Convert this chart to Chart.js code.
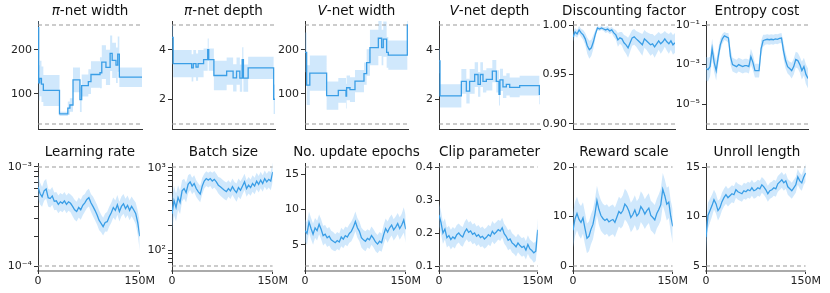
<!DOCTYPE html>
<html>
<head>
<meta charset="utf-8">
<script src="https://cdn.jsdelivr.net/npm/chart.js@4"></script>
<style>
  body { margin: 0; background: #fff; }
  #wrap { position: relative; width: 830px; height: 293px; overflow: hidden; font-family: "DejaVu Sans", sans-serif; }
  canvas { position: absolute; }
  .ttl { position: absolute; font-size: 13.5px; line-height: 1; color: #111; white-space: nowrap; transform: translateX(-50%); }
</style>
</head>
<body>
<div id="wrap"></div>
<script>
// training steps (millions) for the noisy hyperparameter traces
const steps = [0,3,6,9,12,15,18,21,24,27,30,33,36,39,42,45,48,51,54,57,60,63,66,69,72,75,78,81,84,87,90,93,96,99,102,105,108,111,114,117,120,123,126,129,132,135,138,141,144,147,150];

// top row: architecture params are step functions (value holds from x until next x)
const piWidthX = [0,1,2.5,5,7.7,31,43,46,50.5,60.5,63,72.6,76.4,89.4,92,98,104,107,112.5,115,117.3,150];
const piWidth = [250,125,135,122,108,55,68,75,132,87,119,128,144,148,172,160,192,176,165,190,138,138];
const piWidthSpread = [60,40,40,40,35,5,15,15,28,28,25,28,30,35,38,40,40,40,40,40,22,22];

const piDepthX = [0,1.7,28.6,31,35,38,46,52,53.5,61,79.6,89,94,98.8,102.2,104,110.9,148,150];
const piDepth = [4.5,3.44,3.27,3.44,3.3,3.44,3.6,4.0,3.6,2.96,3.14,2.86,3.14,2.85,3.6,2.85,3.27,2.0,2.0];
const piDepthSpread = [0.5,0.55,0.55,0.55,0.55,0.55,0.45,0.45,0.45,0.6,0.55,0.55,0.55,0.55,0.5,0.55,0.45,0.6,0.6];

const vWidthX = [0,2.4,7,31.5,48.5,53.4,59.7,60.6,65.5,72.8,85.9,89.8,94.6,106.8,111.6,114,118.9,121.3,149,150];
const vWidth = [194,120,147,96,108,108,95,114,110,129,146,171,205,226,205,224,194,188,256,256];
const vWidthSpread = [45,45,40,32,28,28,28,28,28,25,25,30,40,40,40,40,35,33,33,33];

const vDepthX = [0,1.5,33.2,40.6,45.5,53,58,61.4,65.3,70.3,79.2,85.1,89.1,90.5,95,100,105,119.8,149,150];
const vDepth = [3.55,2.14,2.72,2.33,2.72,3.0,2.6,3.0,2.72,2.8,3.14,2.72,2.2,2.78,2.5,2.6,2.48,2.55,2.2,2.2];
const vDepthSpread = [0.5,0.47,0.5,0.5,0.5,0.5,0.5,0.5,0.45,0.45,0.45,0.45,0.45,0.45,0.45,0.45,0.4,0.4,0.4,0.4];

const discount = [0.988,0.993,0.991,0.995,0.992,0.990,0.986,0.979,0.975,0.977,0.983,0.991,0.997,0.996,0.997,0.996,0.995,0.996,0.994,0.995,0.992,0.990,0.985,0.987,0.986,0.982,0.980,0.977,0.982,0.987,0.988,0.986,0.984,0.982,0.980,0.986,0.984,0.982,0.980,0.981,0.978,0.981,0.984,0.981,0.983,0.986,0.983,0.981,0.984,0.980,0.982];
const discountSpread = [0.005,0.004,0.004,0.004,0.004,0.005,0.006,0.008,0.009,0.008,0.007,0.004,0.002,0.002,0.002,0.002,0.003,0.003,0.003,0.003,0.004,0.005,0.007,0.006,0.007,0.008,0.009,0.010,0.009,0.008,0.008,0.008,0.009,0.010,0.011,0.009,0.009,0.010,0.011,0.010,0.011,0.010,0.009,0.010,0.009,0.008,0.009,0.010,0.009,0.010,0.010];

// log-scale series: spread is in decades
const entropy = [6.3e-4,5.6e-4,7.9e-4,6.3e-3,1.3e-3,5.0e-4,2.5e-3,1.0e-2,2.0e-2,2.8e-2,2.5e-2,2.2e-2,2.5e-3,1.0e-3,8.9e-4,7.9e-4,1.0e-3,8.9e-4,7.9e-4,8.9e-4,8.9e-4,7.9e-4,2.5e-3,1.3e-3,5.0e-4,5.0e-4,5.0e-4,6.3e-3,1.6e-2,1.8e-2,1.9e-2,1.8e-2,1.9e-2,1.8e-2,2.0e-2,1.9e-2,2.1e-2,2.2e-2,5.0e-3,1.6e-3,7.9e-4,6.3e-4,5.0e-4,7.9e-4,1.8e-3,1.6e-3,1.0e-3,5.0e-4,7.9e-4,3.2e-4,2.0e-4];
const entropySpread = [0.6,0.6,0.5,0.5,0.5,0.5,0.4,0.3,0.25,0.2,0.2,0.25,0.4,0.35,0.35,0.35,0.35,0.35,0.35,0.35,0.35,0.35,0.4,0.4,0.35,0.35,0.35,0.4,0.3,0.25,0.25,0.25,0.25,0.25,0.25,0.25,0.25,0.25,0.4,0.4,0.35,0.35,0.4,0.4,0.4,0.4,0.4,0.45,0.45,0.5,0.5];

const lr = [6.3e-4,5.4e-4,5.0e-4,5.75e-4,6.0e-4,4.9e-4,4.8e-4,5.1e-4,4.5e-4,4.55e-4,4.2e-4,4.45e-4,4.3e-4,4.55e-4,4.2e-4,4.45e-4,4.3e-4,4.0e-4,3.7e-4,3.55e-4,3.9e-4,3.7e-4,4.1e-4,4.35e-4,4.7e-4,4.9e-4,4.35e-4,4.0e-4,3.65e-4,3.3e-4,2.9e-4,2.7e-4,2.5e-4,2.75e-4,2.8e-4,3.15e-4,3.45e-4,3.9e-4,3.65e-4,4.15e-4,3.55e-4,4.0e-4,4.25e-4,3.8e-4,4.1e-4,3.65e-4,4.0e-4,3.7e-4,3.4e-4,2.75e-4,2.0e-4];
const lrSpread = [0.12,0.11,0.1,0.1,0.1,0.09,0.09,0.09,0.09,0.09,0.09,0.09,0.09,0.09,0.09,0.09,0.09,0.1,0.1,0.1,0.1,0.1,0.1,0.09,0.09,0.09,0.09,0.1,0.1,0.1,0.1,0.09,0.09,0.09,0.1,0.1,0.1,0.1,0.1,0.1,0.1,0.1,0.1,0.1,0.1,0.1,0.1,0.1,0.11,0.12,0.15];

const batch = [275,400,330,435,380,525,560,500,630,675,600,645,560,515,480,600,690,740,710,740,690,725,675,615,590,560,535,515,560,525,590,535,500,575,535,600,675,560,615,575,645,600,690,630,710,645,740,675,725,690,890];
const batchSpread = [0.2,0.18,0.17,0.15,0.14,0.13,0.12,0.12,0.11,0.1,0.1,0.1,0.1,0.1,0.1,0.1,0.09,0.09,0.09,0.09,0.1,0.1,0.1,0.1,0.11,0.11,0.11,0.11,0.1,0.1,0.1,0.1,0.11,0.11,0.11,0.1,0.1,0.1,0.1,0.1,0.1,0.1,0.1,0.1,0.1,0.1,0.1,0.1,0.1,0.11,0.12];

const epochs = [7.0,6.6,8.2,7.3,6.5,7.4,7.0,7.9,7.2,6.3,6.5,6.0,6.2,5.7,5.5,5.3,5.6,5.4,6.1,5.8,6.3,6.1,6.6,6.9,7.5,8.3,7.4,6.9,6.0,5.7,5.5,5.9,5.7,6.3,5.9,5.4,5.1,5.5,5.3,6.4,7.3,6.8,7.4,7.8,7.1,7.5,8.0,7.3,7.8,8.5,7.2];
const epochsSpread = [1.6,1.6,1.5,1.5,1.5,1.4,1.4,1.4,1.4,1.4,1.3,1.3,1.3,1.3,1.3,1.2,1.2,1.2,1.3,1.3,1.3,1.3,1.3,1.4,1.4,1.4,1.4,1.4,1.4,1.4,1.4,1.3,1.3,1.3,1.3,1.3,1.3,1.3,1.3,1.4,1.4,1.5,1.5,1.5,1.5,1.5,1.5,1.6,1.6,1.8,1.9];

const clip = [0.255,0.232,0.200,0.212,0.186,0.192,0.180,0.188,0.183,0.195,0.200,0.192,0.188,0.203,0.212,0.202,0.206,0.196,0.200,0.190,0.195,0.186,0.190,0.182,0.187,0.195,0.190,0.205,0.197,0.203,0.210,0.206,0.216,0.198,0.190,0.178,0.182,0.170,0.165,0.158,0.170,0.162,0.156,0.160,0.148,0.165,0.152,0.147,0.140,0.145,0.210];
const clipSpread = [0.035,0.035,0.033,0.032,0.03,0.03,0.03,0.03,0.03,0.029,0.029,0.03,0.03,0.031,0.031,0.03,0.03,0.03,0.03,0.03,0.029,0.029,0.03,0.03,0.03,0.03,0.03,0.031,0.031,0.03,0.03,0.03,0.03,0.03,0.03,0.03,0.03,0.029,0.029,0.029,0.028,0.028,0.028,0.028,0.028,0.028,0.028,0.028,0.03,0.03,0.035];

const reward = [7.2,9.5,10.6,9.4,8.8,9.7,7.6,5.6,6.0,7.4,8.4,10.5,13.2,11.4,10.2,9.6,9.2,9.5,8.9,9.2,9.4,8.8,9.9,11.0,10.6,11.2,12.5,12.0,11.1,9.8,10.4,11.3,10.1,10.6,12.0,11.4,10.5,11.2,11.7,10.2,9.8,9.3,10.6,11.4,12.4,15.5,14.2,12.5,12.9,10.0,8.0];
const rewardSpread = [3.5,3.5,3.4,3.3,3.3,3.2,3.2,3.0,3.0,3.0,3.0,3.0,3.0,3.1,3.1,3.0,3.0,3.0,3.0,3.0,3.0,3.0,3.0,3.0,3.0,3.1,3.1,3.1,3.0,3.0,3.0,3.0,3.0,3.1,3.1,3.1,3.0,3.0,3.0,3.0,3.0,3.0,3.0,3.1,3.2,3.3,3.3,3.3,3.2,3.2,3.4];

const unroll = [7.9,10.1,10.6,11.1,11.7,11.3,10.6,10.9,11.5,11.9,12.2,11.9,12.1,12.3,12.2,12.7,12.5,12.4,12.3,12.6,12.5,12.7,12.6,12.9,12.6,12.7,12.9,12.8,13.2,13.0,12.7,12.3,12.6,12.7,12.9,12.8,13.3,13.5,13.7,13.4,13.6,13.0,12.8,12.6,12.9,13.2,14.0,13.6,13.4,14.0,14.4];
const unrollSpread = [1.5,1.3,1.2,1.1,1.0,1.0,1.0,0.9,0.9,0.9,0.9,0.9,0.85,0.85,0.85,0.8,0.8,0.8,0.8,0.8,0.8,0.8,0.8,0.8,0.8,0.8,0.8,0.8,0.8,0.8,0.8,0.8,0.8,0.8,0.8,0.8,0.8,0.8,0.8,0.8,0.8,0.8,0.8,0.8,0.8,0.8,0.8,0.8,0.8,0.8,0.9];

const lrTicks = [1e-4,2e-4,3e-4,4e-4,5e-4,6e-4,7e-4,8e-4,9e-4,1e-3];
const batchTicks = [70,80,90,100,200,300,400,500,600,700,800,900,1000];

const plots = [
  {title:'<i>π</i>-net width', x:piWidthX, y:piWidth, s:piWidthSpread, bounds:[32,256], ticks:[100,200], labels:['100','200'], step:true},
  {title:'<i>π</i>-net depth', x:piDepthX, y:piDepth, s:piDepthSpread, bounds:[1,5], ticks:[2,4], labels:['2','4'], step:true},
  {title:'<i>V</i>-net width', x:vWidthX, y:vWidth, s:vWidthSpread, bounds:[32,256], ticks:[100,200], labels:['100','200'], step:true},
  {title:'<i>V</i>-net depth', x:vDepthX, y:vDepth, s:vDepthSpread, bounds:[1,5], ticks:[2,4], labels:['2','4'], step:true},
  {title:'Discounting factor', x:steps, y:discount, s:discountSpread, bounds:[0.9,1.0], ticks:[0.9,0.95,1.0], labels:['0.90','0.95','1.00']},
  {title:'Entropy cost', x:steps, y:entropy, s:entropySpread, log:true, bounds:[1e-6,1e-1], ticks:[1e-5,1e-3,1e-1], labels:['10⁻⁵','10⁻³','10⁻¹']},
  {title:'Learning rate', x:steps, y:lr, s:lrSpread, log:true, bounds:[1e-4,1e-3], ticks:lrTicks, labels:['10⁻⁴','','','','','','','','','10⁻³']},
  {title:'Batch size', x:steps, y:batch, s:batchSpread, log:true, bounds:[64,1024], ticks:batchTicks, labels:['','','','10²','','','','','','','','','10³']},
  {title:'No. update epochs', x:steps, y:epochs, s:epochsSpread, bounds:[2,16], ticks:[5,10,15], labels:['5','10','15']},
  {title:'Clip parameter', x:steps, y:clip, s:clipSpread, bounds:[0.1,0.4], ticks:[0.1,0.2,0.3,0.4], labels:['0.1','0.2','0.3','0.4']},
  {title:'Reward scale', x:steps, y:reward, s:rewardSpread, bounds:[0,20], ticks:[0,10,20], labels:['0','10','20']},
  {title:'Unroll length', x:steps, y:unroll, s:unrollSpread, bounds:[5,15], ticks:[5,10,15], labels:['5','10','15']}
];

const plotLeft = [38, 172, 305, 439, 573, 706];
const plotWidth = [104, 103, 103, 101, 102, 102];
const plotTop = [21, 163];
const plotH = 108;
const yAxisW = 40, padTop = 12, padRight = 14;

Chart.defaults.font.family = '"DejaVu Sans", sans-serif';
Chart.defaults.font.size = 11;
Chart.defaults.color = '#222';

const lineColor = '#3a9ee6';
const bandColor = 'rgba(120,190,245,0.35)';
const wrap = document.getElementById('wrap');

plots.forEach((p, i) => {
  const row = Math.floor(i / 6), col = i % 6;
  const xh = row ? 20 : 2;
  const padBottom = row ? 0 : 10;
  const cv = document.createElement('canvas');
  const w = yAxisW + plotWidth[col] + padRight;
  const h = padTop + plotH + xh + padBottom;
  cv.width = w; cv.height = h;
  cv.style.left = (plotLeft[col] - yAxisW) + 'px';
  cv.style.top = (plotTop[row] - padTop) + 'px';
  wrap.appendChild(cv);

  const t = document.createElement('div');
  t.className = 'ttl';
  t.innerHTML = p.title;
  t.style.left = (plotLeft[col] + plotWidth[col] / 2) + 'px';
  t.style.top = (row ? 145 : 4) + 'px';
  wrap.appendChild(t);

  // axis limits: matplotlib-like margins around the search bounds
  let ymin, ymax;
  if (p.log) {
    const a = Math.log10(p.bounds[0]), b = Math.log10(p.bounds[1]), r = b - a;
    ymin = Math.pow(10, a - r * 5 / 99); ymax = Math.pow(10, b + r * 4 / 99);
  } else {
    const r = p.bounds[1] - p.bounds[0];
    ymin = p.bounds[0] - r * 5 / 99; ymax = p.bounds[1] + r * 4 / 99;
  }

  const lo = p.y.map((v, k) => ({x: p.x[k], y: p.log ? v / Math.pow(10, p.s[k]) : v - p.s[k]}));
  const hi = p.y.map((v, k) => ({x: p.x[k], y: p.log ? v * Math.pow(10, p.s[k]) : v + p.s[k]}));
  const mean = p.y.map((v, k) => ({x: p.x[k], y: v}));
  const dashed = v => ({data: [{x: 0, y: v}, {x: 150, y: v}], borderColor: '#999', borderWidth: 1.2, borderDash: [4, 3], pointRadius: 0, fill: false});

  new Chart(cv, {
    type: 'line',
    data: {
      datasets: [
        {data: mean, borderColor: lineColor, borderWidth: 1.3, pointRadius: 0, fill: false, stepped: !!p.step},
        dashed(p.bounds[1]),
        dashed(p.bounds[0]),
        {data: lo, borderColor: 'rgba(0,0,0,0)', borderWidth: 0, pointRadius: 0, fill: false, stepped: !!p.step},
        {data: hi, borderColor: 'rgba(0,0,0,0)', borderWidth: 0, pointRadius: 0, fill: '-1', backgroundColor: bandColor, stepped: !!p.step}
      ]
    },
    options: {
      responsive: false,
      animation: false,
      events: [],
      layout: {padding: {top: padTop, right: padRight, bottom: padBottom, left: 0}},
      plugins: {legend: {display: false}, tooltip: {enabled: false}},
      scales: {
        x: {
          type: 'linear', min: 0, max: 150,
          afterBuildTicks: s => { s.ticks = [{value: 0}, {value: 150}]; },
          afterFit: s => { s.height = xh; },
          ticks: {display: row === 1, maxRotation: 0, padding: 1, callback: v => v === 0 ? '0' : '150M'},
          grid: {drawOnChartArea: false, drawTicks: row === 1, tickLength: 3, color: '#333'},
          border: {color: row ? '#aaa' : '#333', width: row ? 2 : 1}
        },
        y: {
          type: p.log ? 'logarithmic' : 'linear', min: ymin, max: ymax,
          afterBuildTicks: s => { s.ticks = p.ticks.map(v => ({value: v})); },
          afterFit: s => { s.width = yAxisW; },
          ticks: {autoSkip: false, padding: 2, callback: (v, k) => p.labels[k]},
          grid: {drawOnChartArea: false, tickLength: 4, color: '#333'},
          border: {color: '#333', width: 1}
        }
      }
    }
  });
});
</script>
</body>
</html>
